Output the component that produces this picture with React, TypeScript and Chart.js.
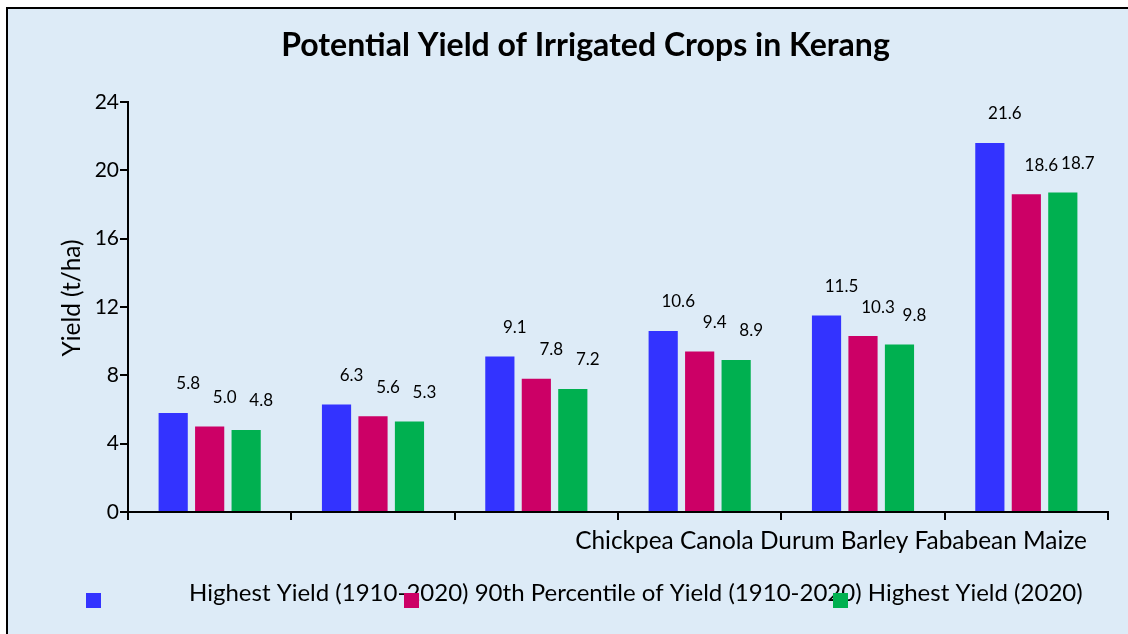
import React, { useEffect, useRef } from "react";
import { Chart, registerables } from "chart.js";

Chart.register(...registerables);

const categories = ["Chickpea", "Canola", "Durum", "Barley", "Fababean", "Maize"];
const highestYield19102020 = [5.8, 6.3, 9.1, 10.6, 11.5, 21.6];
const percentile90Yield = [5.0, 5.6, 7.8, 9.4, 10.3, 18.6];
const highestYield2020 = [4.8, 5.3, 7.2, 8.9, 9.8, 18.7];
const seriesNames = [
  "Highest Yield (1910-2020)",
  "90th Percentile of Yield (1910-2020)",
  "Highest Yield (2020)",
];
const seriesColors = ["#3333FF", "#CC0066", "#00B050"];
const yTicks = [0, 4, 8, 12, 16, 20, 24];
const titleText = "Potential Yield of Irrigated Crops in Kerang";
const yTitle = "Yield (t/ha)";

const FONT = "Lato, 'Open Sans', sans-serif";

function fitSize(ctx: CanvasRenderingContext2D, text: string, weight: string, target: number) {
  ctx.font = `${weight} 100px ${FONT}`;
  const w = ctx.measureText(text).width;
  return (100 * target) / w;
}

const overlayPlugin = {
  id: "overlay",
  afterDraw(chart: any) {
    const ctx: CanvasRenderingContext2D = chart.ctx;
    const area = chart.chartArea;
    ctx.save();
    ctx.fillStyle = "#000";

    // data labels
    ctx.font = `17px ${FONT}`;
    ctx.textAlign = "center";
    ctx.textBaseline = "middle";
    chart.data.datasets.forEach((ds: any, i: number) => {
      const meta = chart.getDatasetMeta(i);
      meta.data.forEach((bar: any, j: number) => {
        ctx.fillText(Number(ds.data[j]).toFixed(1), bar.x + 15, bar.y - 29);
      });
    });

    // title
    let s = fitSize(ctx, titleText, "bold", 609);
    ctx.font = `bold ${s}px ${FONT}`;
    ctx.textAlign = "center";
    ctx.fillText(titleText, 585.5, 46);

    // y title
    s = fitSize(ctx, yTitle, "normal", 117);
    ctx.save();
    ctx.translate(72, 298);
    ctx.rotate(-Math.PI / 2);
    ctx.font = `${s}px ${FONT}`;
    ctx.textAlign = "center";
    ctx.fillText(yTitle, 0, 0);
    ctx.restore();

    // category labels, one line
    const catLine = categories.join(" ");
    s = fitSize(ctx, catLine, "normal", 512);
    ctx.font = `${s}px ${FONT}`;
    ctx.textAlign = "right";
    ctx.fillText(catLine, area.right - 21, area.bottom + 29);

    // legend
    const legLine = seriesNames.join(" ");
    s = fitSize(ctx, legLine, "normal", 894);
    ctx.font = `${s}px ${FONT}`;
    ctx.textAlign = "left";
    ctx.fillText(legLine, 189, 593);
    const boxX = [86, 404, 833];
    seriesColors.forEach((c, i) => {
      ctx.fillStyle = c;
      ctx.fillRect(boxX[i], 593, 15, 15);
    });
    ctx.restore();
  },
};

export default function App() {
  const ref = useRef<HTMLCanvasElement>(null);
  useEffect(() => {
    if (!ref.current) return;
    const series = [highestYield19102020, percentile90Yield, highestYield2020];
    const chart = new Chart(ref.current, {
      type: "bar",
      data: {
        labels: categories,
        datasets: series.map((d, i) => ({
          label: seriesNames[i],
          data: d,
          backgroundColor: seriesColors[i],
          borderWidth: 0,
          categoryPercentage: 0.67,
          barPercentage: 0.8,
        })),
      },
      options: {
        responsive: false,
        animation: false,
        layout: { padding: { top: 102, right: 20, bottom: 0, left: 0 } },
        plugins: {
          legend: { display: false },
          title: { display: false },
          tooltip: { enabled: false },
        },
        scales: {
          x: {
            ticks: { display: false },
            grid: {
              display: true,
              drawOnChartArea: false,
              drawTicks: true,
              tickLength: 8,
              color: "#000",
              lineWidth: 2,
            },
            border: { display: true, color: "#000", width: 2 },
            afterFit: (s: any) => {
              s.height = 122;
            },
          },
          y: {
            min: 0,
            max: 24,
            afterBuildTicks: (s: any) => {
              s.ticks = yTicks.map((v) => ({ value: v }));
            },
            ticks: {
              color: "#000",
              font: { family: FONT, size: 21 },
              padding: 1,
            },
            grid: {
              display: true,
              drawOnChartArea: false,
              drawTicks: true,
              tickLength: 8,
              color: "#000",
              lineWidth: 2,
            },
            border: { display: true, color: "#000", width: 2 },
            afterFit: (s: any) => {
              s.width = 128;
            },
          },
        },
      },
      plugins: [overlayPlugin],
    });
    return () => chart.destroy();
  }, []);

  return (
    <div
      style={{
        position: "fixed",
        left: 0,
        top: 0,
        width: 1128,
        height: 634,
        background: "#fff",
        overflow: "hidden",
      }}
    >
      <div
        style={{
          position: "absolute",
          left: 6,
          top: 7,
          width: 1200,
          height: 700,
          background: "#DDEBF7",
          borderLeft: "2px solid #000",
          borderTop: "2px solid #000",
        }}
      />
      <canvas
        ref={ref}
        width={1128}
        height={634}
        style={{ position: "absolute", left: 0, top: 0, width: 1128, height: 634 }}
      />
    </div>
  );
}
